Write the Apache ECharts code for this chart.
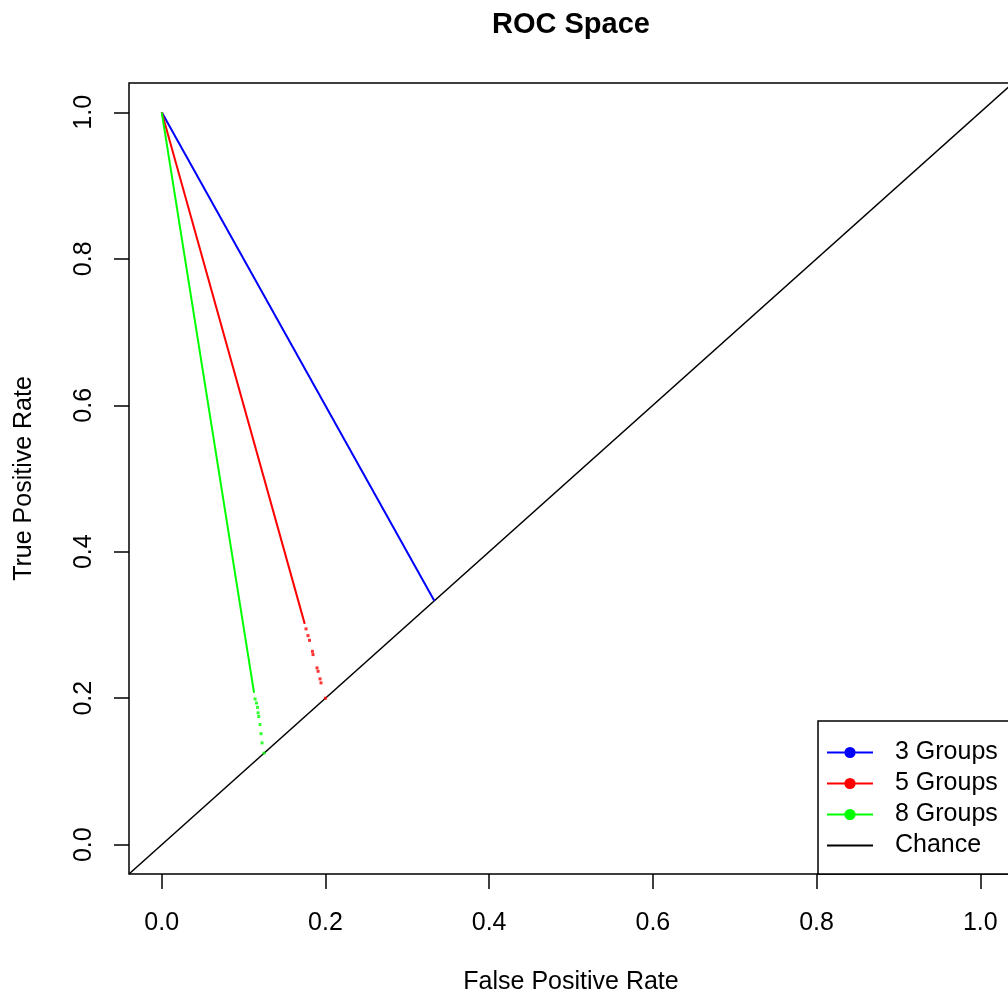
<!DOCTYPE html>
<html>
<head>
<meta charset="utf-8">
<script src="https://cdn.jsdelivr.net/npm/echarts@6/dist/echarts.min.js"></script>
<style>
html,body{margin:0;padding:0;background:#fff;}
#chart{width:1008px;height:997px;}
</style>
</head>
<body>
<div id="chart"></div>
<script>
// ---- data ----
const xTicks = [0, 0.2, 0.4, 0.6, 0.8, 1.0];
const yTicks = [0, 0.2, 0.4, 0.6, 0.8, 1.0];
const legendNames = ['3 Groups', '5 Groups', '8 Groups', 'Chance'];
const groups3 = [[0, 1], [0.333, 0.333]];
const groups5 = [[0, 1], [0.1747, 0.3015]];
const groups5Tail = [[0.1763, 0.2947], [0.1787, 0.2855], [0.1805, 0.279], [0.1841, 0.264], [0.1848, 0.2596],
  [0.1897, 0.2414], [0.191, 0.2368], [0.1934, 0.2264], [0.1946, 0.2209], [0.2, 0.2]];
const groups8 = [[0, 1], [0.1128, 0.2072]];
const groups8Tail = [[0.114, 0.199], [0.1157, 0.1935], [0.117, 0.1875], [0.1177, 0.180], [0.1185, 0.175],
  [0.120, 0.164], [0.1213, 0.1516], [0.1225, 0.139], [0.125, 0.125]];
const chance = [[-0.04, -0.04], [1.04, 1.04]];

const FONT = 'Liberation Sans, Arial, Helvetica, sans-serif';
const chart = echarts.init(document.getElementById('chart'), null, {renderer: 'canvas'});
chart.setOption({
  animation: false,
  backgroundColor: '#fff',
  title: {
    text: 'ROC Space',
    left: 487, top: 5,
    textStyle: {fontFamily: FONT, fontSize: 29, fontWeight: 'bold', color: '#000'}
  },
  grid: {left: 129, top: 83, width: 884, height: 791, outerBoundsMode: 'none', containLabel: false,
    show: true, borderColor: '#000', borderWidth: 1.5, backgroundColor: 'transparent'},
  xAxis: {
    type: 'value', min: -0.04, max: 1.04,
    name: 'False Positive Rate', nameLocation: 'middle', nameGap: 96,
    nameTextStyle: {fontFamily: FONT, fontSize: 25, color: '#000'},
    axisLine: {show: false, onZero: false},
    axisTick: {show: true, inside: false, length: 15, customValues: xTicks, lineStyle: {color: '#000', width: 1.5}},
    axisLabel: {customValues: xTicks, margin: 37, fontFamily: FONT, fontSize: 25, color: '#000',
      formatter: v => v.toFixed(1)},
    splitLine: {show: false}
  },
  yAxis: {
    type: 'value', min: -0.04, max: 1.04,
    name: 'True Positive Rate', nameLocation: 'middle', nameGap: 92, nameRotate: 90,
    nameTextStyle: {fontFamily: FONT, fontSize: 25, color: '#000'},
    axisLine: {show: false, onZero: false},
    axisTick: {show: true, inside: false, length: 15, customValues: yTicks, lineStyle: {color: '#000', width: 1.5}},
    axisLabel: {customValues: yTicks, rotate: 90, margin: 32, fontFamily: FONT, fontSize: 25, color: '#000',
      formatter: v => v.toFixed(1)},
    splitLine: {show: false}
  },
  legend: {
    data: [legendNames[0], legendNames[1], legendNames[2], {name: legendNames[3], itemStyle: {opacity: 0}}],
    orient: 'vertical', left: 821, top: 735,
    itemWidth: 46, itemHeight: 14, itemGap: 6,
    textStyle: {fontFamily: FONT, fontSize: 25, color: '#000', lineHeight: 25, padding: [0, 0, 0, 17]},
    selectedMode: false, z: 5
  },
  graphic: [{
    type: 'rect', z: 4,
    shape: {x: 818, y: 721, width: 220, height: 153},
    style: {fill: '#fff', stroke: '#000', lineWidth: 1.5}
  }],
  series: [
    {name: '3 Groups', type: 'line', data: groups3, symbol: 'circle', showSymbol: false,
      itemStyle: {color: '#0000ff'}, lineStyle: {color: '#0000ff', width: 2}},
    {name: '5 Groups', type: 'line', data: groups5, symbol: 'circle', showSymbol: false,
      itemStyle: {color: '#ff0000'}, lineStyle: {color: '#ff0000', width: 2}},
    {name: '5 Groups tail', type: 'scatter', data: groups5Tail, symbol: 'rect', symbolSize: 3,
      itemStyle: {color: '#ff0000'}},
    {name: '8 Groups', type: 'line', data: groups8, symbol: 'circle', showSymbol: false,
      itemStyle: {color: '#00ff00'}, lineStyle: {color: '#00ff00', width: 2}},
    {name: '8 Groups tail', type: 'scatter', data: groups8Tail, symbol: 'rect', symbolSize: 3,
      itemStyle: {color: '#00ff00'}},
    {name: 'Chance', type: 'line', data: chance, symbol: 'none',
      itemStyle: {color: '#000'}, lineStyle: {color: '#000', width: 1.5}, z: 1}
  ]
});
</script>
</body>
</html>
